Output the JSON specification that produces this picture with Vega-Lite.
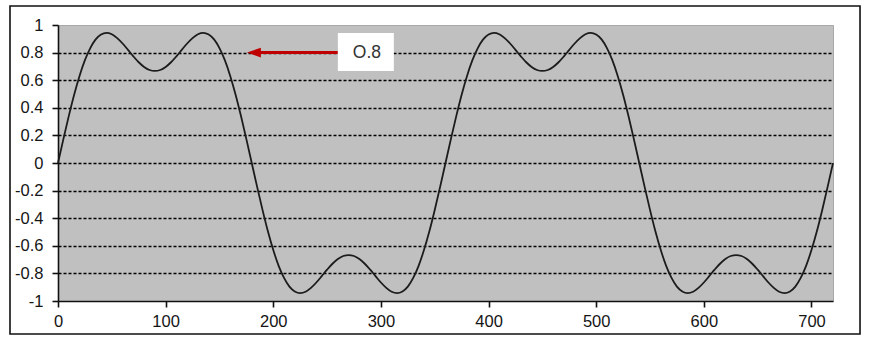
{
  "$schema": "https://vega.github.io/schema/vega-lite/v6.json",
  "autosize": {"type": "none"},
  "width": 775,
  "height": 276,
  "padding": {"left": 58, "top": 25, "right": 41, "bottom": 42},
  "background": "white",
  "config": {
    "view": {"fill": "#c0c0c0", "stroke": "#a8a8a8", "strokeWidth": 1},
    "axis": {"labelFont": "Liberation Sans", "labelFontSize": 16.5, "labelColor": "#151515", "title": null, "domainColor": "#111", "tickColor": "#111", "domainWidth": 1.6, "tickWidth": 1.6, "labelFlush": false, "labelOverlap": false}
  },
  "datasets": {
    "wave": [
      {"deg":0,"val":0},{"deg":5,"val":0.173},{"deg":10,"val":0.34},{"deg":15,"val":0.495},{"deg":20,"val":0.631},{"deg":25,"val":0.745},{"deg":30,"val":0.833},{"deg":35,"val":0.896},{"deg":40,"val":0.931},{"deg":45,"val":0.943},{"deg":50,"val":0.933},{"deg":55,"val":0.905},{"deg":60,"val":0.866},{"deg":65,"val":0.82},{"deg":70,"val":0.773},{"deg":75,"val":0.73},{"deg":80,"val":0.696},{"deg":85,"val":0.674},{"deg":90,"val":0.667},{"deg":95,"val":0.674},{"deg":100,"val":0.696},{"deg":105,"val":0.73},{"deg":110,"val":0.773},{"deg":115,"val":0.82},{"deg":120,"val":0.866},{"deg":125,"val":0.905},{"deg":130,"val":0.933},{"deg":135,"val":0.943},{"deg":140,"val":0.931},{"deg":145,"val":0.896},{"deg":150,"val":0.833},{"deg":155,"val":0.745},{"deg":160,"val":0.631},{"deg":165,"val":0.495},{"deg":170,"val":0.34},{"deg":175,"val":0.173},
      {"deg":180,"val":0},{"deg":185,"val":-0.173},{"deg":190,"val":-0.34},{"deg":195,"val":-0.495},{"deg":200,"val":-0.631},{"deg":205,"val":-0.745},{"deg":210,"val":-0.833},{"deg":215,"val":-0.896},{"deg":220,"val":-0.931},{"deg":225,"val":-0.943},{"deg":230,"val":-0.933},{"deg":235,"val":-0.905},{"deg":240,"val":-0.866},{"deg":245,"val":-0.82},{"deg":250,"val":-0.773},{"deg":255,"val":-0.73},{"deg":260,"val":-0.696},{"deg":265,"val":-0.674},{"deg":270,"val":-0.667},{"deg":275,"val":-0.674},{"deg":280,"val":-0.696},{"deg":285,"val":-0.73},{"deg":290,"val":-0.773},{"deg":295,"val":-0.82},{"deg":300,"val":-0.866},{"deg":305,"val":-0.905},{"deg":310,"val":-0.933},{"deg":315,"val":-0.943},{"deg":320,"val":-0.931},{"deg":325,"val":-0.896},{"deg":330,"val":-0.833},{"deg":335,"val":-0.745},{"deg":340,"val":-0.631},{"deg":345,"val":-0.495},{"deg":350,"val":-0.34},{"deg":355,"val":-0.173},
      {"deg":360,"val":0},{"deg":365,"val":0.173},{"deg":370,"val":0.34},{"deg":375,"val":0.495},{"deg":380,"val":0.631},{"deg":385,"val":0.745},{"deg":390,"val":0.833},{"deg":395,"val":0.896},{"deg":400,"val":0.931},{"deg":405,"val":0.943},{"deg":410,"val":0.933},{"deg":415,"val":0.905},{"deg":420,"val":0.866},{"deg":425,"val":0.82},{"deg":430,"val":0.773},{"deg":435,"val":0.73},{"deg":440,"val":0.696},{"deg":445,"val":0.674},{"deg":450,"val":0.667},{"deg":455,"val":0.674},{"deg":460,"val":0.696},{"deg":465,"val":0.73},{"deg":470,"val":0.773},{"deg":475,"val":0.82},{"deg":480,"val":0.866},{"deg":485,"val":0.905},{"deg":490,"val":0.933},{"deg":495,"val":0.943},{"deg":500,"val":0.931},{"deg":505,"val":0.896},{"deg":510,"val":0.833},{"deg":515,"val":0.745},{"deg":520,"val":0.631},{"deg":525,"val":0.495},{"deg":530,"val":0.34},{"deg":535,"val":0.173},
      {"deg":540,"val":0},{"deg":545,"val":-0.173},{"deg":550,"val":-0.34},{"deg":555,"val":-0.495},{"deg":560,"val":-0.631},{"deg":565,"val":-0.745},{"deg":570,"val":-0.833},{"deg":575,"val":-0.896},{"deg":580,"val":-0.931},{"deg":585,"val":-0.943},{"deg":590,"val":-0.933},{"deg":595,"val":-0.905},{"deg":600,"val":-0.866},{"deg":605,"val":-0.82},{"deg":610,"val":-0.773},{"deg":615,"val":-0.73},{"deg":620,"val":-0.696},{"deg":625,"val":-0.674},{"deg":630,"val":-0.667},{"deg":635,"val":-0.674},{"deg":640,"val":-0.696},{"deg":645,"val":-0.73},{"deg":650,"val":-0.773},{"deg":655,"val":-0.82},{"deg":660,"val":-0.866},{"deg":665,"val":-0.905},{"deg":670,"val":-0.933},{"deg":675,"val":-0.943},{"deg":680,"val":-0.931},{"deg":685,"val":-0.896},{"deg":690,"val":-0.833},{"deg":695,"val":-0.745},{"deg":700,"val":-0.631},{"deg":705,"val":-0.495},{"deg":710,"val":-0.34},{"deg":715,"val":-0.173},{"deg":720,"val":0}
    ],
    "note": [{"label": "O.8", "value": 0.8}]
  },
  "layer": [
    {
      "data": {"name": "wave"},
      "mark": {"type": "line", "interpolate": "monotone", "color": "#1c1c1c", "strokeWidth": 1.8},
      "encoding": {
        "x": {"field": "deg", "type": "quantitative",
          "scale": {"domain": [0, 720], "nice": false, "zero": false},
          "axis": {"values": [0, 100, 200, 300, 400, 500, 600, 700], "tickCount": 20, "grid": false, "tickSize": 6, "labelPadding": 6, "labelOverlap": false, "labelFlush": false}},
        "y": {"field": "val", "type": "quantitative",
          "scale": {"domain": [-1, 1], "nice": false, "zero": false},
          "axis": {"values": [-1, -0.8, -0.6, -0.4, -0.2, 0, 0.2, 0.4, 0.6, 0.8, 1], "tickCount": 20, "tickSize": 6, "labelPadding": 9, "labelOverlap": false, "labelFlush": false,
            "labelExpr": "datum.value == 0 ? '0' : (datum.value < 0 ? '-' : '') + format(abs(datum.value), '~g')",
            "grid": true, "gridColor": "#000", "gridDash": [3, 2], "gridWidth": 1.6,
            "gridOpacity": {"condition": {"test": "abs(datum.value) > 0.99", "value": 0}, "value": 1}}}
      }
    },
    {
      "data": {"name": "note"},
      "mark": {"type": "rule", "color": "#c00000", "strokeWidth": 3},
      "encoding": {
        "x": {"datum": 186, "type": "quantitative"},
        "x2": {"datum": 260},
        "y": {"field": "value", "type": "quantitative"}
      }
    },
    {
      "data": {"name": "note"},
      "mark": {"type": "point", "shape": "M-1,0L1,-0.7L1,0.7Z", "filled": true, "color": "#c00000", "opacity": 1, "size": 196},
      "encoding": {
        "x": {"datum": 182, "type": "quantitative"},
        "y": {"field": "value", "type": "quantitative"}
      }
    },
    {
      "data": {"name": "note"},
      "mark": {"type": "rect", "fill": "white", "stroke": null},
      "encoding": {
        "x": {"datum": 260, "type": "quantitative"},
        "x2": {"datum": 312},
        "y": {"datum": 0.942, "type": "quantitative"},
        "y2": {"datum": 0.667}
      }
    },
    {
      "data": {"name": "note"},
      "mark": {"type": "text", "font": "Liberation Sans", "fontSize": 17.5, "color": "#333", "align": "center", "baseline": "middle"},
      "encoding": {
        "x": {"datum": 287, "type": "quantitative"},
        "y": {"datum": 0.795, "type": "quantitative"},
        "text": {"field": "label"}
      }
    },
    {
      "data": {"name": "note"},
      "mark": {"type": "rect", "fill": null, "fillOpacity": 0, "stroke": "#111", "strokeWidth": 1.6},
      "encoding": {
        "x": {"datum": -44.6, "type": "quantitative"},
        "x2": {"datum": 745.1},
        "y": {"datum": 1.138, "type": "quantitative"},
        "y2": {"datum": -1.239}
      }
    }
  ]
}
